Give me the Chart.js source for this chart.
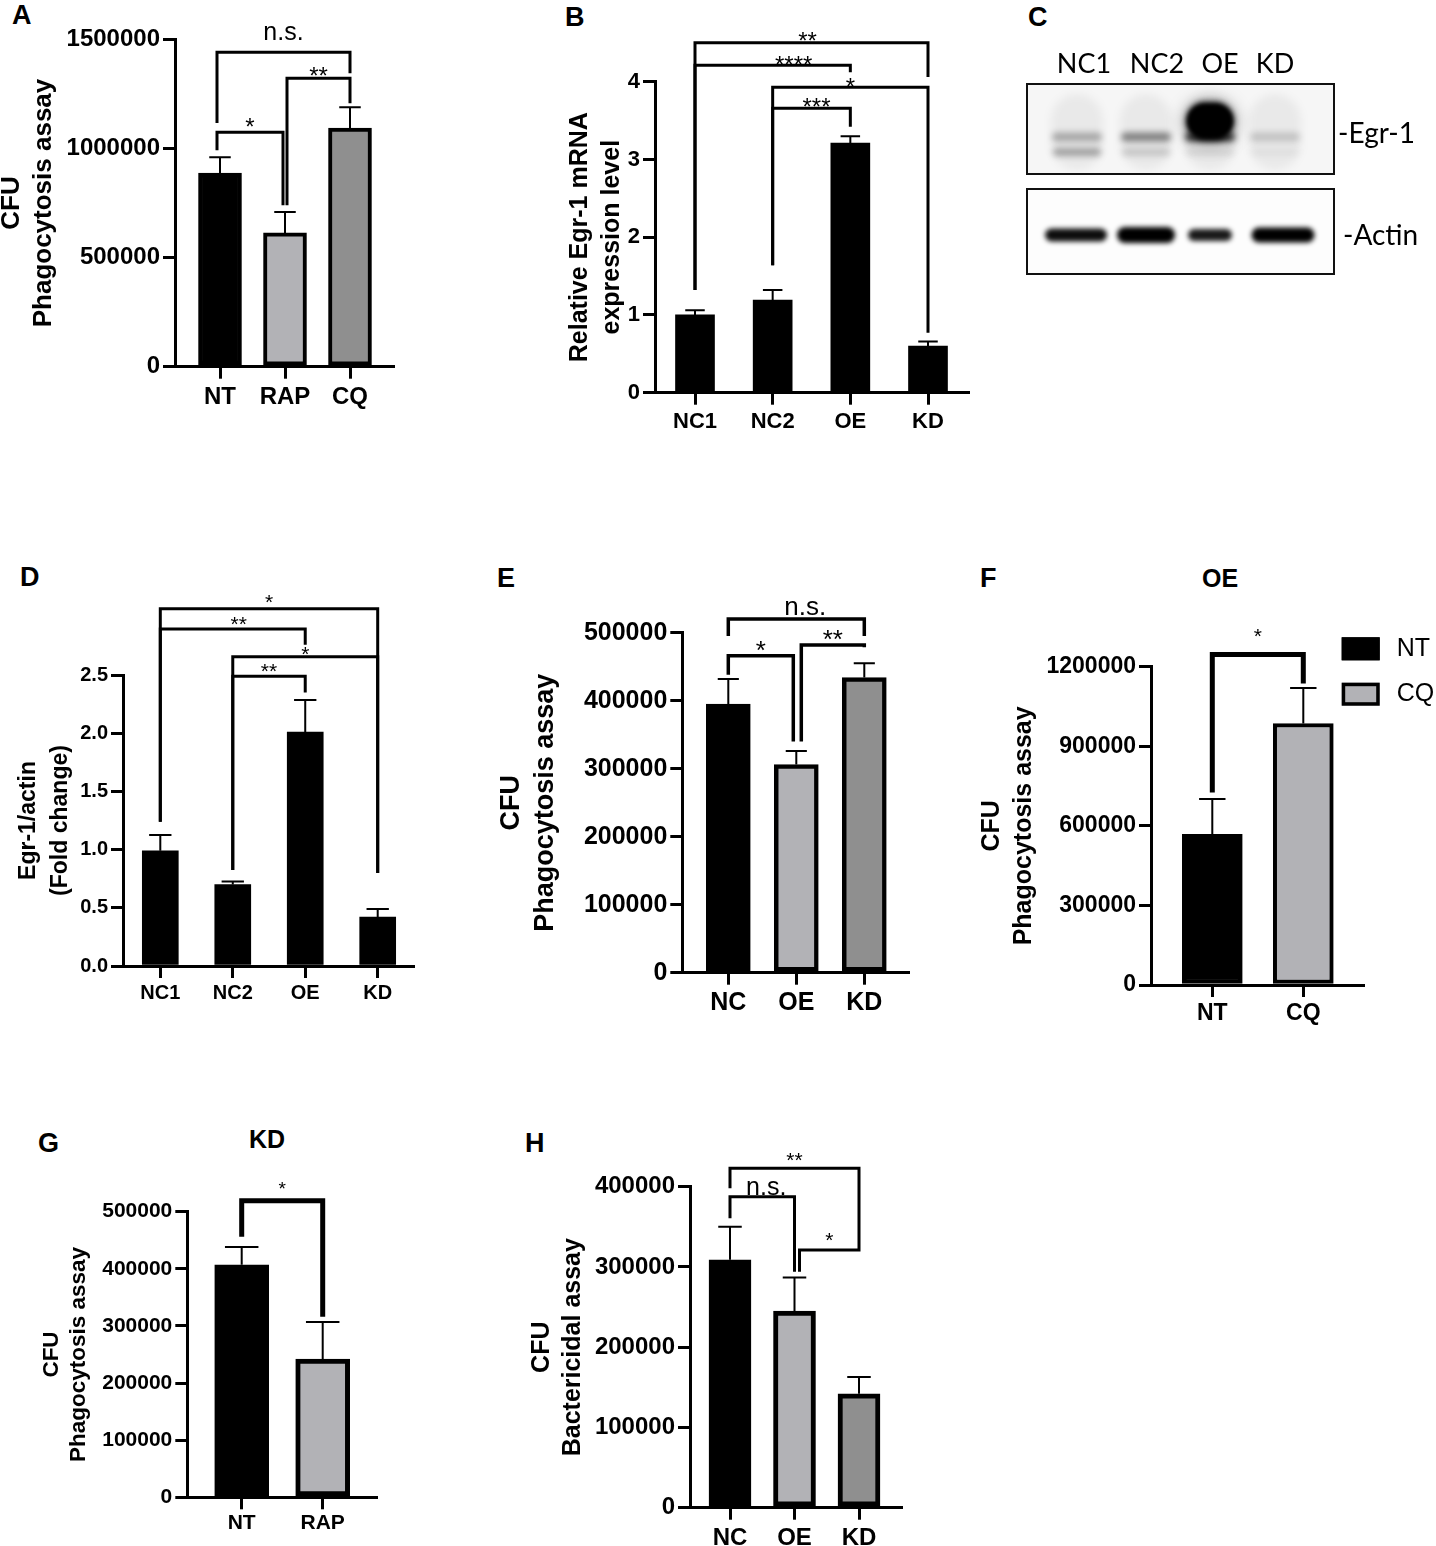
<!DOCTYPE html>
<html>
<head>
<meta charset="utf-8">
<script src="https://cdn.jsdelivr.net/npm/chart.js@4.4.1/dist/chart.umd.min.js"></script>
<style>
html,body{margin:0;padding:0;background:#fff;}
#page{position:relative;width:1436px;height:1546px;overflow:hidden;background:#fff;}
.tag{position:absolute;font:bold 27px Arial,"Liberation Sans",sans-serif;line-height:1;color:#000;}
.head{position:absolute;font:bold 25px Arial,"Liberation Sans",sans-serif;line-height:1;color:#000;transform:translateX(-50%);}
</style>
</head>
<body>
<div id="page">
  <div class="tag" style="left:12px;top:2px">A</div>
  <div class="tag" style="left:565px;top:4px">B</div>
  <div class="tag" style="left:1028px;top:4px">C</div>
  <div class="tag" style="left:20px;top:564px">D</div>
  <div class="tag" style="left:497px;top:565px">E</div>
  <div class="tag" style="left:980px;top:565px">F</div>
  <div class="tag" style="left:38px;top:1130px">G</div>
  <div class="tag" style="left:525px;top:1130px">H</div>
  <div class="head" style="left:1220px;top:566px">OE</div>
  <div class="head" style="left:267px;top:1127px">KD</div>
</div>
<script>
const FONT = 'Arial, "Liberation Sans", sans-serif';
const BLOT_FONT = 'Lato, "Open Sans", sans-serif';

// ---- data ----
const aLabels = ['NT', 'RAP', 'CQ'];
const aMeans = [887000, 613000, 1093000];
const aSem = [73000, 96000, 96000];
const aPairs = [[0, 2, 'n.s.'], [1, 2, '**'], [0, 1, '*']];

const bLabels = ['NC1', 'NC2', 'OE', 'KD'];
const bMeans = [1.00, 1.19, 3.21, 0.60];
const bSem = [0.06, 0.13, 0.09, 0.06];
const bPairs = [[0, 3, '**'], [0, 2, '****'], [1, 3, '*'], [1, 2, '***']];

const blotLanes = ['NC1', 'NC2', 'OE', 'KD'];
const egrUpper = [0.38, 0.6, 1, 0.22];
const egrLower = [0.42, 0.2, 0.1, 0.05];
const actinBand = [0.95, 1, 0.9, 1];

const dLabels = ['NC1', 'NC2', 'OE', 'KD'];
const dMeans = [0.99, 0.70, 2.01, 0.42];
const dSem = [0.135, 0.025, 0.275, 0.07];
const dPairs = [[0, 3, '*'], [0, 2, '**'], [1, 3, '*'], [1, 2, '**']];

const eLabels = ['NC', 'OE', 'KD'];
const eMeans = [395000, 306000, 434000];
const eSem = [37000, 20000, 21000];
const ePairs = [[0, 2, 'n.s.'], [0, 1, '*'], [1, 2, '**']];

const fLabels = ['NT', 'CQ'];
const fMeans = [568000, 986000];
const fSem = [133000, 134000];
const fPairs = [[0, 1, '*']];

const gLabels = ['NT', 'RAP'];
const gMeans = [407000, 242000];
const gSem = [31000, 65000];
const gPairs = [[0, 1, '*']];

const hLabels = ['NC', 'OE', 'KD'];
const hMeans = [309000, 245000, 142000];
const hSem = [41000, 42000, 21000];
const hPairs = [[0, 2, '**'], [0, 1, 'n.s.'], [1, 2, '*']];

const BLACK = '#000', LIGHT = '#b2b2b6', MID = '#8f8f8f';

Chart.defaults.font.family = FONT;
Chart.defaults.color = '#000';

const page = document.getElementById('page');

// error bars, significance brackets and the little legend of F
const extras = {
  id: 'extras',
  afterDatasetsDraw(chart, args, o) {
    const {ctx, scales: {x, y}} = chart;
    const ds = chart.data.datasets[0];
    const meta = chart.getDatasetMeta(0);
    ctx.save();
    ctx.strokeStyle = '#000';
    ctx.fillStyle = '#000';
    ctx.lineCap = 'butt';
    ctx.lineJoin = 'miter';
    ctx.lineWidth = o.errWidth;
    meta.data.forEach((bar, i) => {
      const top = y.getPixelForValue(ds.data[i].y + ds.sem[i]);
      const half = bar.width * o.cap / 2;
      ctx.beginPath();
      ctx.moveTo(bar.x, bar.y);
      ctx.lineTo(bar.x, top);
      ctx.moveTo(bar.x - half, top);
      ctx.lineTo(bar.x + half, top);
      ctx.stroke();
    });

    ctx.lineWidth = o.sigWidth;
    ctx.textAlign = 'center';
    ctx.textBaseline = 'alphabetic';
    o.pairs.forEach((p, i) => {
      const g = o.sig[i];
      const xa = x.getPixelForValue(p[0]) + (g.dxa || 0);
      const xb = x.getPixelForValue(p[1]) + (g.dxb || 0);
      const yl = y.getPixelForValue(g.y);
      ctx.beginPath();
      ctx.moveTo(xa, y.getPixelForValue(g.la));
      ctx.lineTo(xa, yl);
      ctx.lineTo(xb, yl);
      ctx.lineTo(xb, y.getPixelForValue(g.lb));
      ctx.stroke();
      ctx.font = (g.fs || o.sigFont) + 'px ' + FONT;
      const m = ctx.measureText(p[2]);
      const cy = yl - g.ty;
      ctx.fillText(p[2], (xa + xb) / 2 + (g.tx || 0), cy + (m.actualBoundingBoxAscent - m.actualBoundingBoxDescent) / 2);
    });

    const lg = o.legend;
    if (lg) {
      const {right, top} = chart.chartArea;
      lg.labels.forEach((t, i) => {
        const bx = right + lg.dx, by = top + lg.dy + i * lg.gap;
        ctx.fillStyle = lg.colors[i];
        ctx.fillRect(bx, by, lg.w, lg.h);
        ctx.lineWidth = lg.border;
        ctx.strokeRect(bx + lg.border / 2, by + lg.border / 2, lg.w - lg.border, lg.h - lg.border);
        ctx.fillStyle = '#000';
        ctx.font = lg.font + 'px ' + FONT;
        ctx.textAlign = 'left';
        ctx.textBaseline = 'middle';
        ctx.fillText(t, bx + lg.textDx, by + lg.h / 2);
      });
    }
    ctx.restore();
  }
};

function barPanel(p) {
  const L = p.layout, s = p.style;
  const n = p.labels.length;
  const sp = (L.centers[n - 1] - L.centers[0]) / (n - 1);
  // snap the canvas to whole pixels and keep the plot area where it belongs
  const left = Math.round(L.ax - L.yW);
  const top = Math.round(L.top - L.padTop);
  const yW = L.ax - left;
  const padTop = L.top - top;
  const w = Math.ceil(yW + L.right - L.ax + L.padR);
  const padR = w - (yW + L.right - L.ax);
  const h = Math.ceil(padTop + L.bottom - L.top + L.xH);
  const xH = h - (L.bottom - top);

  const cv = document.createElement('canvas');
  cv.width = w;
  cv.height = h;
  cv.style.cssText = `position:absolute;left:${left}px;top:${top}px;width:${w}px;height:${h}px`;
  page.appendChild(cv);

  const titleLH = L.tSp / s.titleFont;

  new Chart(cv, {
    type: 'bar',
    data: {
      datasets: [{
        data: p.means.map((v, i) => ({x: i, y: v})),
        sem: p.sem,
        backgroundColor: p.colors,
        borderColor: '#000',
        borderWidth: s.border,
        borderSkipped: false,
        barThickness: L.barW
      }]
    },
    options: {
      responsive: false,
      animation: false,
      layout: {padding: {top: padTop, right: padR, left: 0, bottom: 0}},
      plugins: {
        legend: {display: false},
        tooltip: {enabled: false},
        extras: {
          pairs: p.pairs, sig: p.sig, legend: p.legend,
          errWidth: s.errW, cap: s.cap, sigWidth: s.sigW, sigFont: s.sigFont
        }
      },
      scales: {
        x: {
          type: 'linear',
          offset: false,
          min: -(L.centers[0] - L.ax) / sp,
          max: n - 1 + (L.right - L.centers[n - 1]) / sp,
          afterBuildTicks: sc => { sc.ticks = p.labels.map((_, i) => ({value: i})); },
          afterFit: sc => { sc.height = xH; },
          ticks: {
            callback: v => p.labels[v],
            autoSkip: false, maxRotation: 0,
            padding: L.xPad,
            font: {family: FONT, size: s.xFont, weight: 'bold'}
          },
          grid: {offset: false, drawOnChartArea: false, drawTicks: true, tickLength: 12, color: '#000', lineWidth: s.axisW},
          border: {display: true, color: '#000', width: s.axisW}
        },
        y: {
          min: 0, max: p.yMax,
          afterFit: sc => { sc.width = yW; },
          ticks: {
            stepSize: p.step, autoSkip: false, padding: 3,
            callback: p.fmt,
            font: {family: FONT, size: s.yFont, weight: 'bold'}
          },
          grid: {drawOnChartArea: false, drawTicks: true, tickLength: 12, color: '#000', lineWidth: s.axisW},
          border: {display: true, color: '#000', width: s.axisW},
          title: {
            display: true,
            text: p.title,
            font: {family: FONT, size: s.titleFont, weight: 'bold', lineHeight: titleLH},
            padding: {top: L.t1 - left - L.tSp / 2, bottom: 0}
          }
        }
      }
    },
    plugins: [extras]
  });
}

const intFmt = v => String(v);

barPanel({
  labels: aLabels, means: aMeans, sem: aSem, pairs: aPairs,
  yMax: 1500000, step: 500000, fmt: intFmt,
  title: ['CFU', 'Phagocytosis assay'],
  colors: [BLACK, LIGHT, MID],
  style: {yFont: 24, xFont: 24, titleFont: 26, sigFont: 24, axisW: 3, sigW: 3, errW: 2, cap: 0.5, border: 4},
  layout: {ax: 175, top: 39.3, bottom: 366.7, right: 393, centers: [220, 286, 350], yW: 190, padTop: 39.3, padR: 15, xH: 50, xPad: 4, barW: 43, t1: 12, tSp: 32},
  sig: [
    {y: 1441000, la: 1116000, lb: 1345000, ty: 19, dxa: -3, fs: 25},
    {y: 1322000, la: 740000, lb: 1207000, ty: 7, dxa: 2},
    {y: 1074000, la: 992000, lb: 740000, ty: 9.5, dxa: -3, dxb: -2}
  ]
});

barPanel({
  labels: bLabels, means: bMeans, sem: bSem, pairs: bPairs,
  yMax: 4, step: 1, fmt: intFmt,
  title: ['Relative Egr-1 mRNA', 'expression level'],
  colors: [BLACK, BLACK, BLACK, BLACK],
  style: {yFont: 22, xFont: 22, titleFont: 25, sigFont: 24, axisW: 3, sigW: 3, errW: 2, cap: 0.5, border: 0},
  layout: {ax: 655, top: 81.7, bottom: 392.7, right: 968, centers: [695, 773, 851, 928], yW: 175, padTop: 81.7, padR: 10, xH: 50, xPad: 4, barW: 39, t1: 580, tSp: 32},
  sig: [
    {y: 4.50, la: 1.32, lb: 4.06, ty: 6, tx: -4},
    {y: 4.21, la: 1.32, lb: 4.12, ty: 5, tx: 21},
    {y: 3.93, la: 1.64, lb: 0.77, ty: 5},
    {y: 3.66, la: 1.64, lb: 3.42, ty: 6, tx: 5}
  ]
});

barPanel({
  labels: dLabels, means: dMeans, sem: dSem, pairs: dPairs,
  yMax: 2.5, step: 0.5, fmt: v => v.toFixed(1),
  title: ['Egr-1/actin', '(Fold change)'],
  colors: [BLACK, BLACK, BLACK, BLACK],
  style: {yFont: 20, xFont: 20, titleFont: 23, sigFont: 21, axisW: 3, sigW: 3, errW: 2, cap: 0.62, border: 0},
  layout: {ax: 123, top: 675, bottom: 966, right: 413, centers: [160.3, 232.3, 304.3, 377.7], yW: 133, padTop: 105, padR: 12, xH: 45, xPad: 3.3, barW: 36, t1: 29, tSp: 32},
  sig: [
    {y: 3.07, la: 1.24, lb: 0.80, ty: 10},
    {y: 2.895, la: 1.24, lb: 2.76, ty: 8, tx: 6},
    {y: 2.657, la: 0.825, lb: 0.80, ty: 5.5},
    {y: 2.49, la: 0.825, lb: 2.35, ty: 7.7}
  ]
});

barPanel({
  labels: eLabels, means: eMeans, sem: eSem, pairs: ePairs,
  yMax: 500000, step: 100000, fmt: intFmt,
  title: ['CFU', 'Phagocytosis assay'],
  colors: [BLACK, LIGHT, MID],
  style: {yFont: 25, xFont: 25, titleFont: 27, sigFont: 26, axisW: 3, sigW: 3.5, errW: 2, cap: 0.48, border: 4.5},
  layout: {ax: 682.3, top: 632.7, bottom: 972.7, right: 908, centers: [728.3, 796.7, 864.3], yW: 192.3, padTop: 42.7, padR: 12, xH: 55, xPad: 3.6, barW: 44, t1: 511.7, tSp: 34},
  sig: [
    {y: 520000, la: 495000, lb: 495000, ty: 11, tx: 9, fs: 26},
    {y: 466000, la: 438000, lb: 340000, ty: 10, dxb: -3},
    {y: 482000, la: 340000, lb: 478500, ty: 10, dxa: 5}
  ]
});

barPanel({
  labels: fLabels, means: fMeans, sem: fSem, pairs: fPairs,
  yMax: 1200000, step: 300000, fmt: intFmt,
  title: ['CFU', 'Phagocytosis assay'],
  colors: [BLACK, LIGHT],
  style: {yFont: 23, xFont: 23, titleFont: 25, sigFont: 21, axisW: 3, sigW: 5, errW: 2, cap: 0.44, border: 4},
  layout: {ax: 1151, top: 666.7, bottom: 985, right: 1363.3, centers: [1212.3, 1303.3], yW: 171, padTop: 66.7, padR: 72.7, xH: 50, xPad: 2.5, barW: 60, t1: 991.7, tSp: 32},
  sig: [{y: 1246000, la: 726000, lb: 1137000, ty: 21}],
  legend: {labels: fLabels, colors: [BLACK, LIGHT], dx: -21.6, dy: -29.4, w: 38, h: 23, gap: 45.4, border: 3.5, textDx: 55, font: 25}
});

barPanel({
  labels: gLabels, means: gMeans, sem: gSem, pairs: gPairs,
  yMax: 500000, step: 100000, fmt: intFmt,
  title: ['CFU', 'Phagocytosis assay'],
  colors: [BLACK, LIGHT],
  style: {yFont: 21, xFont: 21, titleFont: 22.5, sigFont: 19, axisW: 3, sigW: 5, errW: 2, cap: 0.62, border: 5},
  layout: {ax: 187.3, top: 1211.7, bottom: 1497.3, right: 376.7, centers: [241.7, 322.7], yW: 157.3, padTop: 41.7, padR: 12, xH: 45, xPad: 1.4, barW: 54, t1: 51.7, tSp: 27.3},
  sig: [{y: 519000, la: 456000, lb: 316000, ty: 15}]
});

barPanel({
  labels: hLabels, means: hMeans, sem: hSem, pairs: hPairs,
  yMax: 400000, step: 100000, fmt: intFmt,
  title: ['CFU', 'Bactericidal assay'],
  colors: [BLACK, LIGHT, MID],
  style: {yFont: 24, xFont: 24, titleFont: 25, sigFont: 21, axisW: 3, sigW: 3, errW: 2, cap: 0.56, border: 5},
  layout: {ax: 690, top: 1186.7, bottom: 1507.7, right: 901.7, centers: [730, 794.3, 859], yW: 170, padTop: 46.7, padR: 12, xH: 40, xPad: 3.9, barW: 42, t1: 541.7, tSp: 31},
  sig: [
    {y: 423000, la: 398000, lb: 336000, ty: 11},
    {y: 387500, la: 360600, lb: 294000, ty: 9, fs: 25, tx: 4},
    {y: 321000, la: 294000, lb: 336000, ty: 13, dxa: 5}
  ]
});

// ---- panel C: western blot picture ----
const blotLayout = {
  egrBox: [1027, 84, 307, 90], actinBox: [1027, 189, 307, 85],
  labelX: [1084, 1157, 1220, 1275], labelBase: 73,
  egrX: [1077, 1146, 1210, 1275], actinX: [1076, 1146, 1210, 1283],
  actinW: [62, 58, 44, 63], actinH: [13, 16, 12, 15]
};

function drawBlot() {
  const B = blotLayout;
  const cv = document.createElement('canvas');
  cv.width = 446; cv.height = 300;
  cv.style.cssText = 'position:absolute;left:990px;top:0;width:446px;height:300px';
  page.appendChild(cv);
  const ctx = cv.getContext('2d');
  ctx.translate(-990, 0);

  const band = (cx, cy, w, h, a, blur) => {
    ctx.save();
    ctx.filter = `blur(${blur}px)`;
    ctx.fillStyle = `rgba(0,0,0,${a})`;
    ctx.beginPath();
    ctx.roundRect(cx - w / 2, cy - h / 2, w, h, h / 2);
    ctx.fill();
    ctx.restore();
  };

  // Egr-1 strip
  let [bx, by, bw, bh] = B.egrBox;
  ctx.save();
  ctx.beginPath(); ctx.rect(bx, by, bw, bh); ctx.clip();
  ctx.fillStyle = '#f6f6f6'; ctx.fillRect(bx, by, bw, bh);
  B.egrX.forEach((cx, i) => {
    band(cx, 132, 52, 76, 0.05, 4);
    band(cx, 137, 50, 9, egrUpper[i] * 0.75, 3);
    band(cx, 152, 48, 8, egrLower[i] * 0.75, 3);
  });
  band(B.egrX[2], 122, 56, 46, 0.25, 8);
  band(B.egrX[2], 121, 48, 38, 1, 3);
  band(B.egrX[2], 121, 44, 32, 1, 2);
  ctx.restore();
  ctx.lineWidth = 2; ctx.strokeStyle = '#111';
  ctx.strokeRect(bx, by, bw, bh);

  // Actin strip
  [bx, by, bw, bh] = B.actinBox;
  ctx.save();
  ctx.beginPath(); ctx.rect(bx, by, bw, bh); ctx.clip();
  ctx.fillStyle = '#fdfdfd'; ctx.fillRect(bx, by, bw, bh);
  B.actinX.forEach((cx, i) => {
    band(cx, 235, B.actinW[i], B.actinH[i], actinBand[i], 2.5);
  });
  ctx.restore();
  ctx.strokeRect(bx, by, bw, bh);

  ctx.fillStyle = '#000';
  ctx.font = '27px ' + BLOT_FONT;
  ctx.textAlign = 'center';
  ctx.textBaseline = 'alphabetic';
  blotLanes.forEach((t, i) => ctx.fillText(t, B.labelX[i], B.labelBase));
  ctx.font = '28px ' + BLOT_FONT;
  ctx.textAlign = 'left';
  ctx.fillText('-Egr-1', 1338, 143);
  ctx.fillText('-Actin', 1343, 245);
}
drawBlot();
</script>
</body>
</html>
